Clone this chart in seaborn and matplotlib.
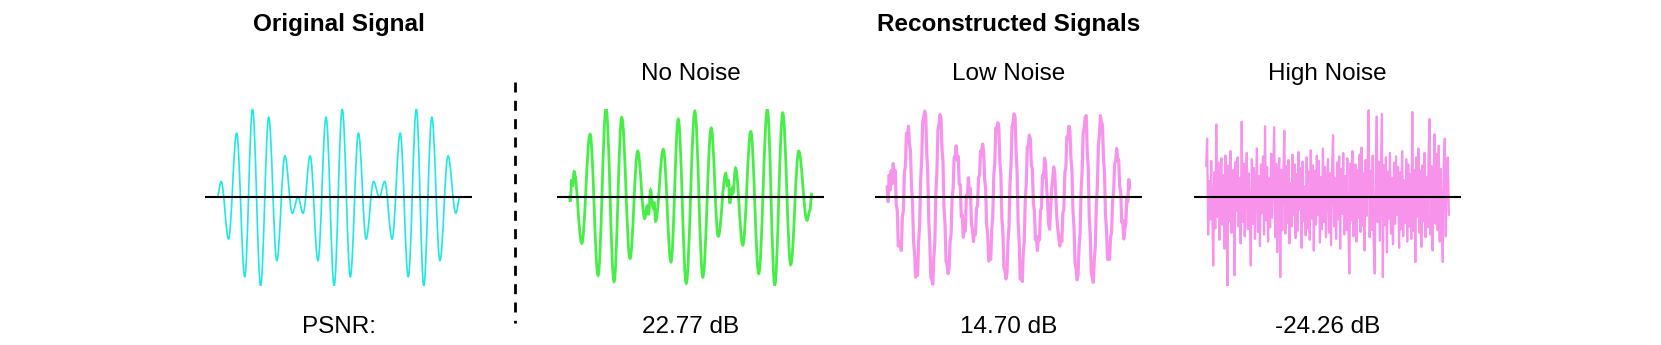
import numpy as np
import matplotlib
matplotlib.use("Agg")
import matplotlib.pyplot as plt
import seaborn as sns
from matplotlib.path import Path
from matplotlib.patches import PathPatch
from matplotlib.lines import Line2D

# extrema of the clean signal (sample position, amplitude)
orig_x = [0, 4, 11.3, 19.3, 27.3, 35, 43, 51, 59, 67, 74.3, 80, 85, 92, 99.7,
          107.7, 115.7, 123.7, 131.7, 139.7, 147.3, 154.7, 160.3, 165.7, 173,
          181, 189, 197, 204.3, 212.3, 220.3, 228.3, 236, 240]
orig_y = [0.0, 0.177, -0.47, 0.722, -0.895, 0.996, -0.996, 0.902, -0.714, 0.466,
          -0.18, 0.0, -0.18, 0.466, -0.714, 0.902, -0.996, 0.996, -0.895, 0.722,
          -0.47, 0.177, 0.0, 0.177, -0.47, 0.722, -0.895, 0.996, -0.996, 0.902,
          -0.714, 0.466, -0.18, 0.0]

# reconstruction without noise (turning points)
green_x = [0, 1.2, 2.5, 3.5, 4.9, 12.5, 20.7, 28.6, 36.5, 44.4, 52, 60.2, 67.8,
           74.7, 77, 78.5, 80.6, 83, 84, 85.5, 93.1, 100.7, 107.9, 115.8, 124.3,
           132.2, 140.5, 147.4, 154.9, 156.5, 157.5, 158.9, 161, 162, 164.5,
           171.7, 179.6, 187.5, 196, 203.3, 211.2, 219.1, 227, 235.2, 238, 240]
green_y = [0.02, -0.05, 0.2, 0.12, 0.29, -0.52, 0.71, -0.88, 1.0, -0.95, 0.9,
           -0.69, 0.52, -0.24, -0.1, -0.2, 0.08, -0.12, -0.05, -0.27, 0.54, -0.73,
           0.88, -0.97, 0.97, -0.9, 0.78, -0.44, 0.27, 0.12, 0.2, -0.07, 0.1, 0.05,
           0.33, -0.54, 0.74, -0.86, 0.99, -0.99, 0.95, -0.76, 0.52, -0.26, -0.15,
           0.05]

# reconstruction with low noise
low_noise = [
    0.12, -0.05, 0.25, 0.08, 0.3, 0.15, 0.38,
    0.22, 0.3, -0.08, -0.15, -0.55, -0.5,
    -0.52, -0.6, -0.22, -0.15, 0.28, 0.35, 0.72, 0.66,
    0.8, 0.6, 0.52, 0.12, -0.05, -0.5, -0.62, -0.9,
    -0.84, -0.88, -0.5, -0.32, 0.2, 0.42, 0.85, 0.9,
    0.97,
    0.92, 0.5, 0.28, -0.26, -0.5, -0.9, -0.93,
    -0.98, -0.68, -0.5, 0.05, 0.28, 0.76, 0.82,
    0.93,
    0.9, 0.55, 0.4, -0.12, -0.3, -0.72, -0.76,
    -0.86,
    -0.8, -0.5, -0.42, 0.0, 0.1, 0.45, 0.46,
    0.58,
    0.42, 0.46, 0.15, 0.14, -0.22, -0.2, -0.45,
    -0.36,
    -0.38, 0.02, 0.0, 0.22, 0.05, 0.1, -0.3, -0.36, -0.5,
    -0.38, -0.42, -0.12, -0.1, 0.22, 0.25, 0.52, 0.48,
    0.6,
    0.52, 0.2, 0.1, -0.32, -0.42, -0.72,
    -0.65,
    -0.7, -0.36, -0.22, 0.24, 0.38, 0.78, 0.76,
    0.84,
    0.78, 0.4, 0.25, -0.24, -0.4, -0.8, -0.82,
    -0.92,
    -0.86, -0.5, -0.34, 0.16, 0.37, 0.8, 0.84,
    0.94,
    0.9, 0.5, 0.28, -0.28, -0.5, -0.92,
    -0.88,
    -0.95, -0.64, -0.5, -0.04, 0.15, 0.56, 0.58,
    0.7,
    0.66, 0.36, 0.32, -0.07, -0.15, -0.48, -0.45,
    -0.6,
    -0.44, -0.48, -0.15, -0.12, 0.25, 0.22, 0.44,
    0.38, 0.12, -0.05, -0.3, -0.36, -0.12, 0.1, 0.2, 0.34, 0.28, 0.05, -0.2,
    -0.35, -0.46, -0.55,
    -0.44, -0.5, -0.18, -0.14, 0.28, 0.34, 0.68, 0.66,
    0.8,
    0.74, 0.44, 0.3, -0.16, -0.34, -0.74, -0.8,
    -0.93,
    -0.88, -0.56, -0.4, 0.08, 0.28, 0.72, 0.78,
    0.9,
    0.92, 0.52, 0.34, -0.22, -0.42, -0.86,
    -0.9,
    -0.96, -0.7, -0.55, -0.08, 0.12, 0.58, 0.7, 0.92,
    0.84,
    0.82, 0.45, 0.28, -0.2, -0.36, -0.7,
    -0.62,
    -0.7, -0.45, -0.4, -0.04, 0.05, 0.38, 0.4,
    0.55,
    0.44, 0.42, 0.12, 0.06, -0.28, -0.26, -0.47,
    -0.36, -0.3, 0.0, -0.05, 0.2, 0.1,
]

# reconstruction with high noise
high_noise = [
    0.35, 0.66, -0.42, 0.18, -0.25, 0.41, -0.12, -0.77, 0.28, -0.35,
    0.82, -0.22, 0.39, -0.48, 0.15, 0.44, -0.31, 0.25, -0.58, 0.47,
    -0.19, -1.0, 0.36, -0.27, 0.52, -0.4, 0.12, 0.31, -0.88, 0.4,
    -0.15, 0.45, -0.33, 0.22, -0.52, 0.85, -0.28, 0.38, -0.44, 0.19,
    0.5, -0.36, 0.27, -0.21, -0.77, 0.43, -0.3, 0.33, -0.47, 0.13,
    0.55, -0.39, 0.24, -0.55, 0.37, -0.18, 0.46, -0.42, 0.8, -0.26,
    0.34, -0.5, 0.21, -0.34, 0.49, -0.23, 0.29, 0.79, -0.45, 0.38,
    -0.62, 0.2, 0.44, -0.9, 0.31, -0.37, 0.26, 0.75, -0.41, 0.35,
    -0.29, 0.42, -0.52, 0.16, -0.33, 0.48, -0.2, 0.37, -0.46, 0.26,
    -0.38, 0.51, -0.14, 0.33, -0.57, 0.4, -0.27, 0.12, -0.43, 0.45,
    -0.35, 0.29, -0.48, 0.53, -0.24, 0.36, -0.6, 0.3, -0.31, 0.47,
    -0.2, 0.41, -0.51, 0.23, -0.36, 0.55, -0.28, 0.34, -0.45, 0.18,
    0.43, -0.4, 0.27, -0.54, 0.35, 0.7, -0.33, 0.21, -0.47, 0.39,
    -0.25, 0.46, -0.58, 0.32, -0.19, 0.5, -0.42, 0.24, -0.37, 0.44,
    -0.3, -0.86, 0.38, -0.26, 0.52, -0.44, 0.2, 0.37, -0.5, 0.31,
    -0.23, 0.48, -0.39, 0.56, -0.32, 0.27, -0.6, 0.42, -0.21, 0.35,
    0.98, -0.45, 0.3, -0.37, 0.47, -0.52, -0.86, 0.33, 0.91, -0.28,
    0.4, -0.49, 0.25, 0.94, -0.9, 0.36, -0.31, 0.45, -0.62, 0.29,
    -0.24, 0.5, -0.41, 0.22, -0.53, 0.39, -0.3, 0.46, -0.2, 0.34,
    -0.57, 0.28, -0.36, 0.52, -0.44, 0.19, -0.29, 0.43, -0.5, 0.37,
    -0.33, 0.26, -0.47, 0.96, -0.38, 0.31, -0.73, 0.45, -0.22, 0.55,
    -0.4, 0.3, -0.56, 0.36, -0.27, 0.5, -0.45, 0.23, -0.34, 0.48,
    0.88, -0.42, 0.35, -0.6, 0.27, 0.71, -0.3, 0.49, -0.37, 0.58,
    -0.5, 0.32, -0.25, -0.73, 0.41, 0.66, -0.44, 0.38, 0.45, -0.2,
]

subtitles = ["No Noise", "Low Noise", "High Noise"]
psnr_labels = ["PSNR:", "22.77 dB", "14.70 dB", "-24.26 dB"]

CYAN = "#1ee8e0"
GREEN = "#47ee47"
PINK = "#f893eb"

sns.set_theme(style="white")
plt.rcParams["font.family"] = ["Liberation Sans", "DejaVu Sans"]
plt.rcParams["text.color"] = "black"

W, H = 1661, 345
fig = plt.figure(figsize=(W / 100, H / 100), dpi=100)


def smooth_path(xs, ys, k=0.364):
    # cubic pieces with flat tangents at every turning point
    verts = [(xs[0], ys[0])]
    codes = [Path.MOVETO]
    for i in range(len(xs) - 1):
        dx = xs[i + 1] - xs[i]
        verts += [(xs[i] + k * dx, ys[i]), (xs[i + 1] - k * dx, ys[i + 1]), (xs[i + 1], ys[i + 1])]
        codes += [Path.CURVE4] * 3
    return Path(verts, codes)


lefts = [205, 557, 875, 1194]
ax_w = 267
ax_top, ax_bot = 108.5, 286
axes = []
for left in lefts:
    ax = fig.add_axes([left / W, 1 - ax_bot / H, ax_w / W, (ax_bot - ax_top) / H])
    ax.set_axis_off()
    axes.append(ax)

# original
ax = axes[0]
ax.add_patch(PathPatch(smooth_path(orig_x, orig_y), fill=False, edgecolor=CYAN, lw=1.2))
span = orig_x[-1] - orig_x[0]
ax.set_xlim(orig_x[0] - 0.05 * span, orig_x[-1] + 0.05 * span)

# no noise
ax = axes[1]
ax.add_patch(PathPatch(smooth_path(green_x, green_y), fill=False, edgecolor=GREEN, lw=2.0))
span = green_x[-1] - green_x[0]
ax.set_xlim(green_x[0] - 0.05 * span, green_x[-1] + 0.05 * span)

# low / high noise
for ax, vals, lw in [(axes[2], low_noise, 2.3), (axes[3], high_noise, 1.6)]:
    xs = np.arange(len(vals))
    sns.lineplot(x=xs, y=vals, ax=ax, color=PINK, lw=lw, legend=False)
    ax.set_xlim(-0.05 * (len(vals) - 1), 1.05 * (len(vals) - 1))
    ax.set_axis_off()

for ax in axes:
    ax.set_ylim(-1.0, 1.0)
    ax.axhline(0, color="black", lw=1.5, zorder=5)

centers = [(l + ax_w / 2) / W for l in lefts]
fs = 17.5
fig.text(centers[0], 1 - 31 / H, "Original Signal", ha="center", va="baseline",
         fontsize=fs, fontweight="bold")
fig.text(centers[2], 1 - 31.5 / H, "Reconstructed Signals", ha="center", va="baseline",
         fontsize=fs, fontweight="bold")
for c, s in zip(centers[1:], subtitles):
    fig.text(c, 1 - 80 / H, s, ha="center", va="baseline", fontsize=fs)
for c, s in zip(centers, psnr_labels):
    fig.text(c, 1 - 333 / H, s, ha="center", va="baseline", fontsize=fs)

# dashed separator
fig.add_artist(Line2D([515 / W, 515 / W], [1 - 82 / H, 1 - 323 / H], transform=fig.transFigure,
                      color="black", lw=2, linestyle=(0, (3.6, 3.0))))

fig.savefig("out.png", dpi=100, facecolor="white")
